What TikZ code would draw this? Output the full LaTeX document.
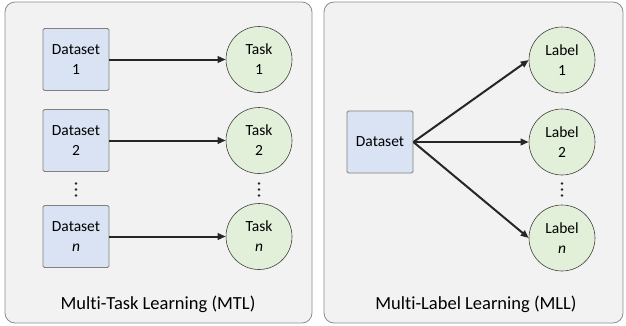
\documentclass[tikz,border=0pt]{standalone}
\usepackage{fontspec}
\setmainfont{Carlito}[Ligatures=NoCommon]
\usepackage{tikz}
\usetikzlibrary{arrows.meta,positioning,calc}
\definecolor{panelgray}{HTML}{F2F2F2}
\definecolor{boxblue}{HTML}{DAE3F3}
\definecolor{circgreen}{HTML}{E2F0D9}
\definecolor{arrowdark}{HTML}{262626}

\begin{document}
\begin{tikzpicture}[x=1pt, y=-1pt,
		panel/.style = {draw = gray!90, fill = panelgray, line width = 0.8pt, rounded corners = 10pt},
		dbox/.style = {draw = gray, fill = boxblue, line width = 0.8pt, rounded corners = 1.5pt, minimum width = 66pt, minimum height = 62pt, inner sep = 0pt, align = center, font = \fontsize{15.5}{20}\selectfont},
		tcirc/.style = {circle, draw = black!75, fill = circgreen, line width = 0.6pt, minimum size = 66pt, inner sep = 0pt, align = center, font = \fontsize{15.5}{20}\selectfont},
		link/.style = {line width = 2pt, draw = arrowdark, -{Triangle[length = 8pt, width = 6.5pt]}},
		caption/.style = {font = \fontsize{18.5}{22}\selectfont}]
		\useasboundingbox (0,0) rectangle (626,325);
		% panels
		\draw [panel] (5,2) rectangle (312,323);
		\draw [panel] (324,2) rectangle (623,323);
		% multi-task side
		\node [dbox](ds1) at (76,59.5) {Dataset\\1};
		\node [dbox](ds2) at (76,140.5) {Dataset\\2};
		\node [dbox](dsn) at (76,236.5) {Dataset\\\textit{n}};
		\node [tcirc](task1) at (259,59.5) {Task\\1};
		\node [tcirc](task2) at (259,140.5) {Task\\2};
		\node [tcirc](taskn) at (259,236.5) {Task\\\textit{n}};
		\draw [link] (ds1) -- (task1);
		\draw [link] (ds2) -- (task2);
		\draw [link] (dsn) -- (taskn);
		\node [caption](mtl) at (158,304) {Multi-Task Learning (MTL)};
		% multi-label side
		\node [dbox](ds) at (380,142) {Dataset};
		\node [tcirc](lab1) at (562,60) {Label\\1};
		\node [tcirc](lab2) at (562,142) {Label\\2};
		\node [tcirc](labn) at (562,238) {Label\\\textit{n}};
		\draw [link] (ds.east) -- (lab1.west);
		\draw [link] (ds.east) -- (lab2.west);
		\draw [link] (ds.east) -- (labn.west);
		\node [caption](mll) at (476,304) {Multi-Label Learning (MLL)};
		% vertical dots
		\foreach \x in {76,259,562}
			\foreach \y in {183.5,189.5,195.5}
				\fill [black!85] (\x,\y) circle (1.3pt);
\end{tikzpicture}
\end{document}
